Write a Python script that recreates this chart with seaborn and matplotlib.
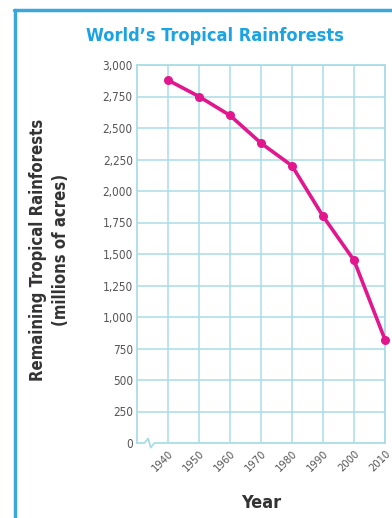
import matplotlib
matplotlib.use("Agg")
import matplotlib.pyplot as plt
import matplotlib.lines as mlines
import seaborn as sns
import pandas as pd

years = [1940, 1950, 1960, 1970, 1980, 1990, 2000, 2010]
remaining = [2880, 2750, 2600, 2380, 2200, 1800, 1450, 820]
y_ticks = [0, 250, 500, 750, 1000, 1250, 1500, 1750, 2000, 2250, 2500, 2750, 3000]
y_tick_labels = ["0", "250", "500", "750", "1,000", "1,250", "1,500", "1,750",
                 "2,000", "2,250", "2,500", "2,750", "3,000"]

df = pd.DataFrame({"Year": years, "Remaining": remaining})

sns.set_theme(style="white")
plt.rcParams["font.family"] = ["DejaVu Sans"]

fig = plt.figure(figsize=(3.92, 5.18), dpi=100)
ax = fig.add_axes([137 / 392, 1 - 443 / 518, (385 - 137) / 392, (443 - 65) / 518])

grid_c = "#a9dde6"
line_c = "#e2168d"

sns.lineplot(data=df, x="Year", y="Remaining", ax=ax, color=line_c, linewidth=2.6,
             marker="o", markersize=6.5, markeredgewidth=0, clip_on=False, zorder=5)

ax.set_xlim(1930, 2010)
ax.set_ylim(0, 3000)
ax.set_yticks(y_ticks)
ax.set_yticklabels(y_tick_labels, fontstretch="condensed")
ax.set_xticks(years)
ax.set_xticklabels([str(y) for y in years], rotation=45, ha="right",
                   rotation_mode="anchor", fontstretch="condensed")
ax.tick_params(axis="y", length=0, labelsize=8.5, colors="#555555", pad=3)
ax.tick_params(axis="x", length=0, labelsize=8, colors="#555555", pad=4)

for v in y_ticks[1:]:
    ax.axhline(v, color=grid_c, lw=1.1, zorder=1)
for v in years:
    ax.axvline(v, color=grid_c, lw=1.1, zorder=1)

for s in ["top", "right", "left"]:
    ax.spines[s].set_color(grid_c)
    ax.spines[s].set_linewidth(1.3)
ax.spines["bottom"].set_visible(False)

# bottom axis with a break mark near the origin
ax.add_line(mlines.Line2D([0, 0.03, 0.045, 0.055, 0.07, 1.0],
                          [0, 0, 0.012, -0.012, 0, 0],
                          transform=ax.transAxes, color=grid_c, lw=1.3,
                          clip_on=False, zorder=2))

ax.set_xlabel("Year", fontsize=13, fontweight="bold", color="#333333",
              fontstretch="condensed")
ax.xaxis.set_label_coords(0.5, -0.135)
ax.set_ylabel("Remaining Tropical Rainforests\n(millions of acres)", fontsize=12,
              fontweight="bold", color="#333333", linespacing=1.35,
              fontstretch="condensed")
ax.yaxis.set_label_coords(-0.272, 0.51)

fig.text(215 / 392, 1 - 36 / 518, "World\u2019s Tropical Rainforests", ha="center",
         va="center", fontsize=13, fontweight="bold", color="#1ba3e3",
         fontstretch="condensed")

# page frame on the left and top
frame_c = "#3aa6d9"
fig.add_artist(mlines.Line2D([15 / 392, 15 / 392], [0, 1 - 10 / 518],
                             transform=fig.transFigure, color=frame_c, lw=2.5))
fig.add_artist(mlines.Line2D([14 / 392, 1], [1 - 10 / 518, 1 - 10 / 518],
                             transform=fig.transFigure, color=frame_c, lw=2.5))

fig.savefig("out.png", dpi=100)
